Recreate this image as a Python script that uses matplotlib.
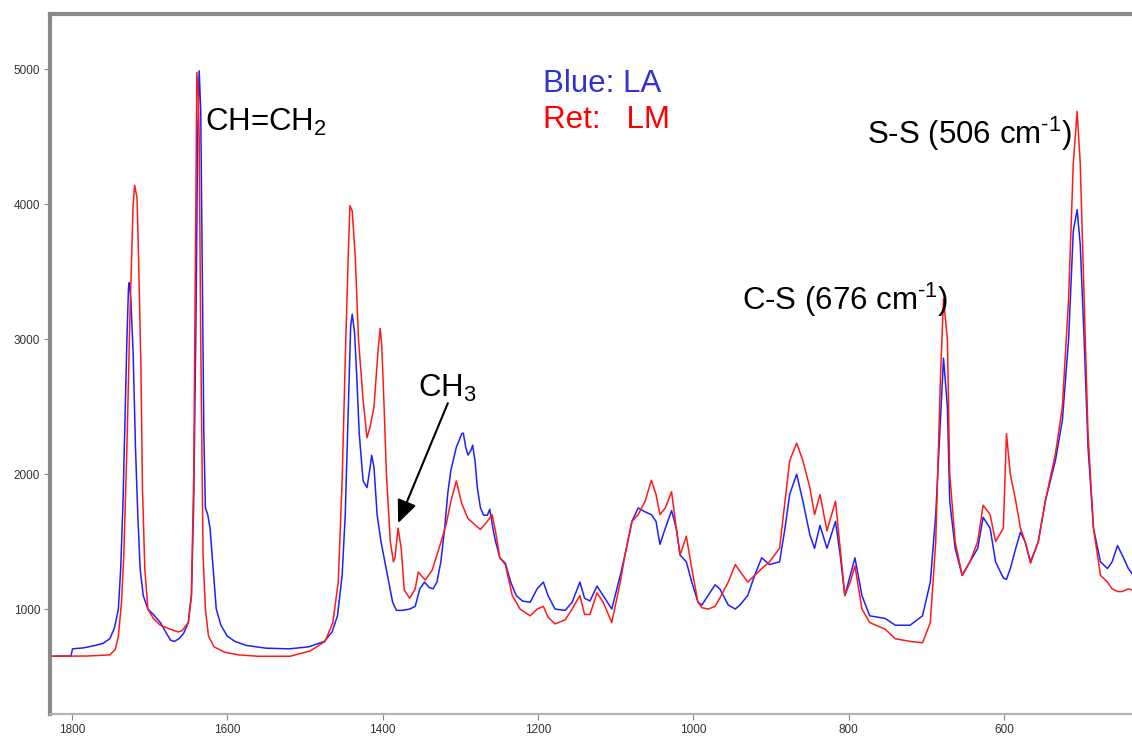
import matplotlib
matplotlib.use("Agg")
import matplotlib.pyplot as plt

plt.rcParams['font.family'] = ['Liberation Sans', 'DejaVu Sans']
plt.rcParams['mathtext.fontset'] = 'custom'
plt.rcParams['mathtext.rm'] = 'Liberation Sans'
plt.rcParams['mathtext.default'] = 'regular'

# Raman spectra: wavenumber (cm-1) and intensity for the two samples
la_wavenumber = [1828, 1801, 1799, 1785, 1770, 1760, 1751, 1745, 1740, 1737, 1734, 1731, 1729, 1727,
                 1726, 1724, 1721, 1718, 1715, 1712, 1708, 1702, 1695, 1686, 1678, 1673, 1668, 1662,
                 1656, 1650, 1646, 1643, 1640, 1638, 1636, 1634, 1632, 1630, 1628, 1625, 1622, 1618,
                 1614, 1608, 1600, 1590, 1575, 1550, 1520, 1495, 1475, 1465, 1458, 1452, 1448, 1444,
                 1441, 1439, 1436, 1433, 1430, 1425, 1420, 1416, 1414, 1411, 1407, 1402, 1397, 1392,
                 1387, 1382, 1375, 1365, 1358, 1352, 1346, 1340, 1335, 1330, 1325, 1320, 1316, 1312,
                 1305, 1298, 1296, 1293, 1290, 1286, 1284, 1281, 1278, 1274, 1270, 1265, 1262, 1258,
                 1255, 1249, 1242, 1235, 1228, 1220, 1210, 1201, 1193, 1187, 1178, 1165, 1156, 1146,
                 1140, 1133, 1124, 1116, 1105, 1094, 1088, 1079, 1071, 1062, 1054, 1048, 1043, 1036,
                 1028, 1022, 1017, 1009, 1002, 994, 989, 981, 972, 966, 955, 946, 940, 930, 921, 912,
                 902, 889, 882, 876, 867, 859, 850, 844, 837, 828, 817, 811, 805, 798, 792, 783, 773,
                 753, 740, 721, 705, 695, 688, 682, 678, 673, 670, 663, 654, 644, 634, 627, 618, 611,
                 601, 597, 592, 585, 579, 573, 566, 556, 547, 534, 525, 517, 511, 506, 502, 497, 492,
                 485, 476, 467, 461, 454, 448, 440, 435]
la_intensity = [650, 652, 705, 712, 730, 745, 780, 860, 1000, 1300, 1800, 2500, 3000, 3380,
                3420, 3300, 2900, 2200, 1700, 1300, 1100, 1000, 960, 900, 820, 770, 760, 780,
                820, 900, 1100, 1800, 3200, 4500, 4990, 4700, 3500, 2300, 1750, 1700, 1600, 1300,
                1000, 880, 800, 760, 730, 710, 705, 720, 760, 830, 950, 1250, 1700, 2500,
                3100, 3185, 3050, 2700, 2300, 1950, 1900, 2050, 2140, 2050, 1700, 1500, 1350, 1200,
                1050, 990, 990, 1000, 1020, 1150, 1200, 1160, 1150, 1200, 1350, 1600, 1860, 2030,
                2200, 2300, 2304, 2200, 2141, 2180, 2215, 2100, 1900, 1750, 1696, 1696, 1740, 1600,
                1511, 1380, 1340, 1200, 1100, 1060, 1050, 1150, 1200, 1100, 1000, 990, 1050, 1200,
                1080, 1060, 1170, 1100, 1000, 1250, 1400, 1650, 1750, 1720, 1700, 1650, 1480, 1600,
                1730, 1600, 1400, 1350, 1200, 1050, 1030, 1100, 1180, 1150, 1030, 1000, 1030, 1100, 1250, 1380,
                1330, 1350, 1600, 1850, 2000, 1800, 1550, 1450, 1620, 1450, 1650, 1400, 1100, 1250, 1380, 1100, 950,
                930, 880, 880, 950, 1200, 1700, 2400, 2860, 2500, 1800, 1450, 1250, 1350, 1450, 1680, 1600, 1350,
                1230, 1220, 1300, 1450, 1570, 1500, 1350, 1500, 1800, 2100, 2400, 3000, 3800, 3960, 3700, 3000, 2200,
                1600, 1350, 1300, 1350, 1470, 1400, 1300, 1260]

lm_wavenumber = [1828, 1780, 1751, 1744, 1740, 1736, 1733, 1729, 1725, 1721, 1719, 1716, 1714, 1711,
                 1709, 1706, 1702, 1695, 1686, 1673, 1663, 1658, 1650, 1646, 1643, 1641, 1639, 1637,
                 1636, 1634, 1631, 1628, 1624, 1617, 1603, 1585, 1560, 1519, 1493, 1474, 1464, 1457,
                 1452, 1448, 1444, 1442, 1439, 1435, 1431, 1425, 1420, 1416, 1411, 1406, 1403, 1401,
                 1398, 1395, 1390, 1386, 1384, 1380, 1376, 1372, 1365, 1358, 1354, 1345, 1336, 1326,
                 1318, 1312, 1305, 1298, 1290, 1274, 1265, 1259, 1255, 1249, 1242, 1233, 1223, 1210,
                 1201, 1193, 1187, 1178, 1165, 1156, 1146, 1140, 1133, 1124, 1116, 1105, 1094, 1088,
                 1079, 1071, 1062, 1054, 1048, 1043, 1036, 1028, 1022, 1017, 1009, 1002, 994, 989,
                 981, 972, 966, 955, 946, 940, 930, 921, 912, 902, 889, 882, 876, 867, 859, 850, 844,
                 837, 828, 817, 811, 805, 798, 792, 783, 773, 753, 740, 721, 705, 695, 688, 682, 678,
                 673, 670, 663, 654, 644, 634, 627, 618, 611, 601, 597, 592, 585, 579, 573, 566, 556,
                 547, 534, 525, 517, 511, 506, 502, 497, 492, 485, 476, 467, 461, 454, 448, 440, 435]
lm_intensity = [650, 652, 660, 700, 800, 1050, 1400, 2200, 3200, 4000, 4141, 4050, 3600, 2800,
                1900, 1300, 1000, 930, 880, 850, 830, 840, 900, 1100, 2000, 3500, 4978, 4800,
                4500, 3000, 1400, 1000, 800, 720, 680, 660, 650, 650, 690, 760, 900, 1200,
                1950, 2850, 3650, 3990, 3950, 3600, 3000, 2550, 2270, 2350, 2500, 2900, 3080, 2950,
                2500, 2000, 1500, 1350, 1380, 1600, 1450, 1140, 1080, 1150, 1274, 1215, 1290, 1474,
                1630, 1800, 1950, 1780, 1670, 1590, 1650, 1700, 1590, 1380, 1330, 1100, 1000, 950,
                1000, 1020, 940, 890, 920, 1000, 1100, 960, 960, 1120, 1050, 900, 1200, 1400,
                1650, 1700, 1800, 1955, 1850, 1700, 1750, 1870, 1600, 1400, 1540, 1300, 1050, 1010,
                1000, 1020, 1080, 1200, 1330, 1280, 1200, 1250, 1300, 1350, 1450, 1800, 2100, 2230, 2100, 1900, 1700,
                1850, 1580, 1800, 1450, 1100, 1200, 1320, 1000, 900, 850, 780, 760, 750, 900, 1500, 2700, 3300,
                3000, 2000, 1500, 1250, 1350, 1500, 1770, 1700, 1500, 1600, 2300, 2000, 1800, 1600, 1500, 1340, 1500,
                1800, 2150, 2500, 3300, 4300, 4690, 4300, 3300, 2300, 1600, 1250, 1200, 1150, 1130, 1130, 1150, 1140]

x_ticks = [1800, 1600, 1400, 1200, 1000, 800, 600]
y_ticks = [1000, 2000, 3000, 4000, 5000]

fig = plt.figure(figsize=(11.32, 7.38), dpi=100)
ax = fig.add_axes([50 / 1132, 24 / 738, 1 - 50 / 1132, (714 - 13.5) / 738])

ax.plot(la_wavenumber, la_intensity, color='#1f1fff', lw=1.1)
ax.plot(lm_wavenumber, lm_intensity, color='#ff1a1a', lw=1.1)

ax.set_xlim(1828, 435.4)
ax.set_ylim(222, 5415)
ax.set_xticks(x_ticks)
ax.set_yticks(y_ticks)
ax.tick_params(axis='both', labelsize=8.5, colors='#333333', length=4, width=0.8,
               direction='out', pad=3)
ax.tick_params(axis='both', color='#888888')

for side in ('left', 'top'):
    ax.spines[side].set_color('#8a8a8a')
    ax.spines[side].set_linewidth(3.0)
ax.spines['bottom'].set_color('#b4b4b4')
ax.spines['bottom'].set_linewidth(1.6)
ax.spines['right'].set_visible(False)

fs = 22.5
ax.text(1628, 4607, 'CH=CH$_2$', fontsize=fs, ha='left', va='center', color='black')
ax.text(1193, 4896, 'Blue: LA', fontsize=fs, ha='left', va='center', color='#3333cc')
ax.text(1193, 4622, 'Ret:   LM', fontsize=fs, ha='left', va='center', color='#ff0000')
ax.text(777, 4526, r'S-S (506 cm$^{\text{-1}}$)', fontsize=fs, ha='left', va='center', color='black')
ax.text(937, 3289, r'C-S (676 cm$^{\text{-1}}$)', fontsize=fs, ha='left', va='center', color='black')
ax.text(1354, 2637, 'CH$_3$', fontsize=fs, ha='left', va='center', color='black')

ax.annotate('', xy=(1380, 1637), xytext=(1316, 2526),
            arrowprops=dict(arrowstyle='-|>,head_length=0.7,head_width=0.3',
                            mutation_scale=20, color='black', lw=1.5,
                            shrinkA=0, shrinkB=0))

fig.savefig('out.png', dpi=100)
